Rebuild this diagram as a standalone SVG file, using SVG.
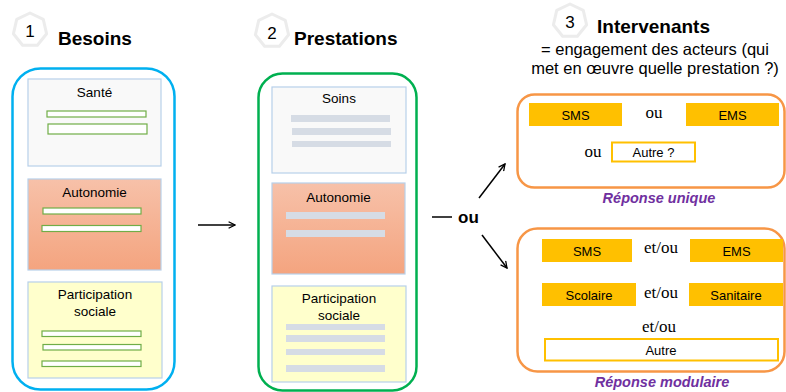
<svg xmlns="http://www.w3.org/2000/svg" width="786" height="392" viewBox="0 0 786 392">
<defs>
<linearGradient id="gAuto" x1="0" y1="0" x2="0" y2="1">
<stop offset="0" stop-color="#f7c1a9"/>
<stop offset="1" stop-color="#f4a47f"/>
</linearGradient>
<marker id="arr" viewBox="0 0 10 10" refX="9" refY="5" markerWidth="8" markerHeight="8" markerUnits="userSpaceOnUse" orient="auto">
<path d="M1,1 L9,5 L1,9" fill="none" stroke="#000" stroke-width="1.6"/>
</marker>
<polygon id="hept" points="0,-17 13.3,-10.6 16.6,3.8 7.4,15.3 -7.4,15.3 -16.6,3.8 -13.3,-10.6"/>
</defs>
<style>
.badge{fill:#fff;stroke:#ececec;stroke-width:3;stroke-linejoin:round}
.num{font-family:"Liberation Sans",Arial,sans-serif;font-size:17px;fill:#000;text-anchor:middle}
.title{font-family:"Liberation Sans",Arial,sans-serif;font-size:19px;font-weight:bold;fill:#000}
.sub{font-family:"Liberation Sans",Arial,sans-serif;font-size:16.5px;fill:#000;text-anchor:middle}
.lbl{font-family:"Liberation Sans",Arial,sans-serif;font-size:13.5px;fill:#000;text-anchor:middle}
.blbl{font-family:"Liberation Sans",Arial,sans-serif;font-size:13px;fill:#000;text-anchor:middle}
.serif{font-family:"Liberation Serif","Times New Roman",serif;font-size:17px;fill:#000;text-anchor:middle}
.resp{font-family:"Liberation Sans",Arial,sans-serif;font-size:14.5px;font-weight:bold;font-style:italic;fill:#7030a0;text-anchor:middle}
.sante{fill:#f9f9f9;stroke:#b7d0ea;stroke-width:1.2}
.auto{fill:url(#gAuto);stroke:#b7d0ea;stroke-width:1.2}
.part{fill:#ffffcc;stroke:#b7d0ea;stroke-width:1.2}
.gbar{fill:#fff;stroke:#70ad47;stroke-width:1.2}
.sbar{fill:#d6dce5}
.ybox{fill:#ffc000}
.wbox{fill:#fff;stroke:#ffc000;stroke-width:2}
.obox{fill:none;stroke:#f79646;stroke-width:2.5}
.conn{stroke:#000;stroke-width:1.5;fill:none}
</style>

<g id="header1">
<use href="#hept" x="30" y="30" class="badge"/>
<text class="num" x="30" y="37">1</text>
<text class="title" x="58" y="45">Besoins</text>
</g>
<g id="header2">
<use href="#hept" x="272" y="31" class="badge"/>
<text class="num" x="272" y="38.5">2</text>
<text class="title" x="294" y="45">Prestations</text>
</g>
<g id="header3">
<use href="#hept" x="570" y="21" class="badge"/>
<text class="num" x="570" y="28">3</text>
<text class="title" x="597" y="33">Intervenants</text>
<text class="sub" x="655" y="55">= engagement des acteurs (qui</text>
<text class="sub" x="655" y="74">met en œuvre quelle prestation ?)</text>
</g>

<g id="besoins">
<rect x="12.5" y="68.5" width="162" height="321" rx="28" fill="none" stroke="#00b0f0" stroke-width="2.5"/>
<g id="b-sante">
<rect class="sante" x="28" y="79" width="133" height="87"/>
<text class="lbl" x="94.5" y="97">Santé</text>
<rect class="gbar" x="47" y="111" width="99" height="6"/>
<rect class="gbar" x="48" y="124" width="99" height="10"/>
</g>
<g id="b-autonomie">
<rect class="auto" x="28" y="179" width="133" height="91"/>
<text class="lbl" x="94.5" y="197">Autonomie</text>
<rect class="gbar" x="43" y="208" width="98" height="6"/>
<rect class="gbar" x="42" y="225.5" width="99" height="6"/>
</g>
<g id="b-participation">
<rect class="part" x="28" y="282" width="134" height="96"/>
<text class="lbl" x="95" y="299">Participation</text>
<text class="lbl" x="95" y="316">sociale</text>
<rect class="gbar" x="42" y="331" width="99" height="5.5"/>
<rect class="gbar" x="43" y="344.5" width="98" height="5.5"/>
<rect class="gbar" x="42" y="361" width="99" height="5.5"/>
</g>
</g>

<g id="prestations">
<rect x="258.5" y="73.5" width="158" height="317" rx="24" fill="none" stroke="#00b050" stroke-width="2.5"/>
<g id="p-soins">
<rect class="sante" x="272" y="87" width="134" height="86"/>
<text class="lbl" x="339" y="103">Soins</text>
<rect class="sbar" x="291" y="115" width="99" height="7"/>
<rect class="sbar" x="292" y="128" width="99" height="7"/>
<rect class="sbar" x="292" y="141" width="99" height="6"/>
</g>
<g id="p-autonomie">
<rect class="auto" x="272" y="183" width="133" height="91"/>
<text class="lbl" x="338.5" y="202">Autonomie</text>
<rect class="sbar" x="286" y="212" width="99" height="7"/>
<rect class="sbar" x="286" y="230" width="99" height="7"/>
</g>
<g id="p-participation">
<rect class="part" x="272" y="286" width="134" height="96"/>
<text class="lbl" x="339" y="303">Participation</text>
<text class="lbl" x="339" y="320">sociale</text>
<rect class="sbar" x="286" y="324" width="99" height="6"/>
<rect class="sbar" x="286" y="335" width="99" height="7"/>
<rect class="sbar" x="286" y="349" width="99" height="6"/>
<rect class="sbar" x="286" y="365" width="99" height="7"/>
</g>
</g>

<g id="unique">
<rect class="obox" x="517.5" y="94.5" width="267" height="93" rx="17"/>
<g id="u-sms"><rect class="ybox" x="529" y="103" width="93" height="23"/><text class="blbl" x="575.5" y="119.5">SMS</text></g>
<text class="serif" x="654" y="118">ou</text>
<g id="u-ems"><rect class="ybox" x="686" y="103" width="93" height="23"/><text class="blbl" x="732.5" y="119.5">EMS</text></g>
<text class="serif" x="593" y="157">ou</text>
<g id="u-autre"><rect class="wbox" x="612" y="142.5" width="83" height="19"/><text class="blbl" x="653.5" y="157">Autre ?</text></g>
<text class="resp" x="659" y="203">Réponse unique</text>
</g>

<g id="modulaire">
<rect class="obox" x="517.5" y="228.5" width="267" height="143" rx="20"/>
<g id="m-sms"><rect class="ybox" x="542" y="239" width="90" height="23"/><text class="blbl" x="587" y="255.5">SMS</text></g>
<text class="serif" x="661" y="253">et/ou</text>
<g id="m-ems"><rect class="ybox" x="690" y="239" width="93" height="23"/><text class="blbl" x="736.5" y="255.5">EMS</text></g>
<g id="m-scolaire"><rect class="ybox" x="542" y="283" width="94" height="23"/><text class="blbl" x="589" y="299.5">Scolaire</text></g>
<text class="serif" x="661" y="298">et/ou</text>
<g id="m-sanitaire"><rect class="ybox" x="689" y="283" width="94" height="23"/><text class="blbl" x="736" y="299.5">Sanitaire</text></g>
<text class="serif" x="659" y="332">et/ou</text>
<g id="m-autre"><rect class="wbox" x="545" y="339" width="233" height="21.5"/><text class="blbl" x="661" y="355">Autre</text></g>
<text class="resp" x="662" y="387">Réponse modulaire</text>
</g>

<g id="connectors">
<line class="conn" x1="198" y1="225" x2="235" y2="225" marker-end="url(#arr)"/>
<line class="conn" x1="432" y1="217" x2="452" y2="217" stroke-width="2"/>
<text x="458" y="223" font-family="Liberation Sans, Arial, sans-serif" font-size="17" font-weight="bold">ou</text>
<line class="conn" x1="479" y1="198" x2="505" y2="164" marker-end="url(#arr)"/>
<line class="conn" x1="482" y1="235" x2="507" y2="268" marker-end="url(#arr)"/>
</g>
</svg>
